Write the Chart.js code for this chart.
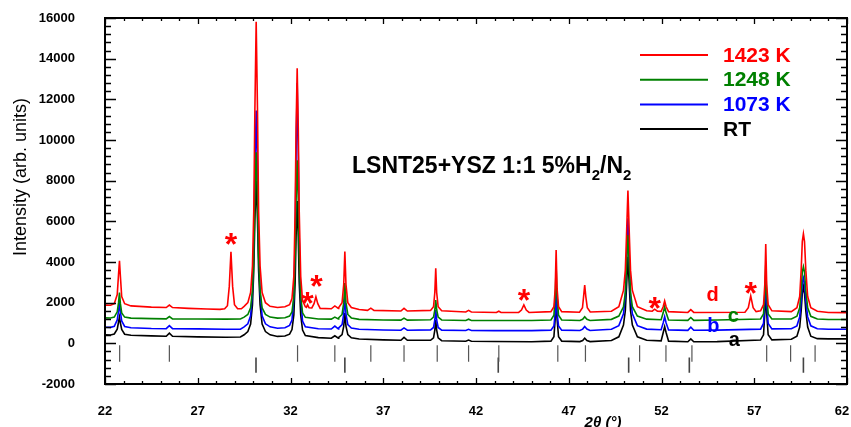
<!DOCTYPE html>
<html>
<head>
<meta charset="utf-8">
<script src="https://cdn.jsdelivr.net/npm/chart.js@4.4.1/dist/chart.umd.min.js"></script>
<style>
  html, body { margin: 0; padding: 0; background: #fff; }
</style>
</head>
<body>
<canvas id="xrd" width="851" height="427"></canvas>
<script>
// series names / colours (legend order)
const seriesNames = ['1423 K', '1248 K', '1073 K', 'RT'];
const seriesColors = ['#ff0000', '#008000', '#0000ff', '#000000'];

// 2theta / intensity pairs
const k1423 = [
  [22.0,1880],[22.3,1870],
  [22.5,1950],[22.66,2400],[22.73,3400],[22.78,4060],[22.83,3300],[22.9,2300],[23.06,1950],[23.4,1840],
  [24.5,1780],[25.3,1760],[25.47,1880],[25.64,1760],
  [26.5,1720],[27.5,1690],[28.2,1670],
  [28.45,1700],[28.6,1850],[28.7,2800],[28.79,4500],[28.88,2800],[28.98,1900],[29.15,1700],[29.35,1700],
  [29.5,1820],[29.7,2000],[29.85,2500],[29.95,3800],[30.02,6500],[30.08,11500],[30.15,15820],[30.22,11500],[30.28,6500],[30.36,3800],[30.47,2500],[30.65,2000],[30.9,1820],
  [31.3,1760],[31.7,1800],
  [31.95,1900],[32.08,2200],[32.18,3300],[32.25,6500],[32.3,10500],[32.36,13530],[32.42,10500],[32.47,6500],[32.55,3300],[32.65,2100],[32.8,1800],
  [32.86,1770],[32.92,1900],[33.0,1750],
  [33.15,1740],[33.27,1950],[33.37,2290],[33.47,1950],[33.6,1720],
  [34.2,1700],[34.39,1840],[34.58,1720],
  [34.6,1760],[34.78,2000],[34.87,2900],[34.93,4510],[34.99,2900],[35.09,2000],[35.28,1760],[35.7,1660],
  [36.15,1620],[36.33,1730],[36.5,1620],
  [37.95,1590],[38.12,1720],[38.3,1590],
  [39.55,1620],[39.71,1800],[39.78,2500],[39.83,3690],[39.88,2500],[39.96,1800],[40.15,1600],
  [41.45,1540],[41.6,1620],[41.75,1540],
  [43.1,1520],[43.23,1580],[43.35,1520],
  [44.3,1520],[44.45,1640],[44.58,1890],[44.71,1640],[44.86,1520],
  [46.04,1560],[46.2,1800],[46.27,2700],[46.32,4590],[46.37,2700],[46.45,1800],[46.62,1560],
  [47.58,1530],[47.74,1750],[47.8,2300],[47.86,2870],[47.92,2300],[48.0,1750],[48.16,1540],
  [49.3,1580],[49.7,1800],[49.95,2600],[50.05,3600],[50.11,5200],[50.19,7510],[50.27,5200],[50.33,3600],[50.43,2600],[50.7,1800],[51.2,1600],
  [51.5,1580],[51.63,1680],[51.78,1580],
  [51.98,1570],[52.09,1800],[52.17,2080],[52.25,1800],[52.38,1560],
  [53.42,1520],[53.58,1660],[53.74,1520],
  [56.5,1530],[56.68,1750],[56.81,2330],[56.94,1750],[57.1,1560],
  [57.34,1600],[57.5,1900],[57.57,2900],[57.62,4890],[57.67,2900],[57.75,1900],[57.95,1600],
  [59.0,1560],[59.3,1750],[59.45,2300],[59.53,3600],[59.59,5000],[59.65,5380],[59.71,5000],[59.78,3600],[59.88,2300],[60.05,1750],[60.4,1580],
  [61.0,1520],[62.0,1510]
];

const k1248 = [
  [22.0,1250],[22.3,1245],
  [22.5,1290],[22.66,1550],[22.73,2000],[22.78,2500],[22.83,1950],[22.9,1500],[23.06,1290],[23.4,1240],
  [24.5,1215],[25.3,1205],[25.47,1320],[25.64,1205],
  [27.0,1200],[28.5,1190],[29.3,1200],
  [29.5,1290],[29.7,1420],[29.85,1750],[29.95,2600],[30.02,4300],[30.08,7200],[30.15,9400],[30.22,7200],[30.28,4300],[30.36,2600],[30.47,1750],[30.65,1420],[30.9,1290],
  [31.3,1240],[31.7,1260],
  [31.95,1340],[32.08,1550],[32.18,2300],[32.25,4300],[32.3,7000],[32.36,9000],[32.42,7000],[32.47,4300],[32.55,2300],[32.65,1500],[32.8,1280],
  [33.5,1200],[34.2,1190],[34.39,1290],[34.58,1200],
  [34.6,1260],[34.78,1420],[34.87,2000],[34.93,2970],[34.99,2000],[35.09,1420],[35.28,1250],[35.7,1180],
  [37.0,1150],[37.95,1140],[38.12,1240],[38.3,1140],
  [39.55,1160],[39.71,1290],[39.78,1650],[39.83,2130],[39.88,1650],[39.96,1290],[40.15,1150],
  [41.45,1125],[41.6,1185],[41.75,1125],
  [43.0,1120],[45.0,1120],
  [46.04,1150],[46.2,1380],[46.27,2300],[46.32,3770],[46.37,2300],[46.45,1380],[46.62,1150],
  [47.6,1125],[47.75,1180],[47.86,1310],[47.98,1180],[48.15,1125],
  [49.3,1180],[49.7,1340],[49.95,1800],[50.05,2500],[50.11,3700],[50.19,5330],[50.27,3700],[50.33,2500],[50.43,1800],[50.7,1340],[51.2,1190],
  [51.98,1160],[52.09,1500],[52.17,1800],[52.25,1500],[52.38,1150],
  [53.42,1130],[53.58,1270],[53.74,1130],
  [55.0,1150],
  [57.34,1200],[57.5,1450],[57.57,2400],[57.62,3850],[57.67,2400],[57.75,1450],[57.95,1200],
  [59.0,1200],[59.3,1330],[59.45,1750],[59.53,2600],[59.59,3500],[59.65,3770],[59.71,3500],[59.78,2600],[59.88,1750],[60.05,1330],[60.4,1200],
  [61.0,1175],[62.0,1170]
];

const k1073 = [
  [22.0,790],[22.3,785],
  [22.5,840],[22.66,1150],[22.73,1600],[22.78,1950],[22.83,1550],[22.9,1100],[23.06,830],[23.4,770],
  [24.5,730],[25.3,720],[25.47,870],[25.64,720],
  [27.0,710],[28.5,695],[29.3,700],
  [29.5,810],[29.7,960],[29.85,1350],[29.95,2500],[30.02,4800],[30.08,8500],[30.15,11450],[30.22,8500],[30.28,4800],[30.36,2500],[30.47,1350],[30.65,960],[30.9,810],
  [31.3,740],[31.7,770],
  [31.95,880],[32.08,1150],[32.18,2200],[32.25,5200],[32.3,9200],[32.36,12800],[32.42,9200],[32.47,5200],[32.55,2200],[32.65,1100],[32.8,810],
  [33.5,720],[34.2,705],[34.39,850],[34.58,710],
  [34.6,760],[34.78,920],[34.87,1450],[34.93,2280],[34.99,1450],[35.09,920],[35.28,750],[35.7,690],
  [37.0,655],[37.95,645],[38.12,760],[38.3,645],
  [39.55,660],[39.71,780],[39.78,1150],[39.83,1640],[39.88,1150],[39.96,780],[40.15,650],
  [41.45,630],[41.6,690],[41.75,630],
  [43.0,625],[45.0,625],
  [46.04,650],[46.2,850],[46.27,1500],[46.32,2540],[46.37,1500],[46.45,850],[46.62,650],
  [47.6,630],[47.75,700],[47.86,830],[47.98,700],[48.15,630],
  [49.3,690],[49.7,870],[49.95,1450],[50.05,2300],[50.11,4000],[50.19,6150],[50.27,4000],[50.33,2300],[50.43,1450],[50.7,870],[51.2,700],
  [51.98,670],[52.09,1000],[52.17,1310],[52.25,1000],[52.38,660],
  [53.42,640],[53.58,790],[53.74,640],
  [55.0,650],
  [57.34,700],[57.5,980],[57.57,2000],[57.62,3360],[57.67,2000],[57.75,980],[57.95,710],
  [59.0,720],[59.3,860],[59.45,1300],[59.53,2100],[59.59,2950],[59.65,3210],[59.71,2950],[59.78,2100],[59.88,1300],[60.05,860],[60.4,720],
  [61.0,695],[62.0,690]
];

const rt = [
  [22.0,420],[22.3,410],
  [22.5,460],[22.66,700],[22.73,1050],[22.78,1300],[22.83,1000],[22.9,680],[23.06,450],[23.4,395],
  [24.5,365],[25.3,350],[25.47,500],[25.64,350],
  [27.0,320],[28.5,300],[29.3,310],
  [29.5,420],[29.7,580],[29.85,950],[29.95,1900],[30.02,3600],[30.08,6100],[30.15,8000],[30.22,6100],[30.28,3600],[30.36,1900],[30.47,950],[30.65,580],[30.9,420],
  [31.3,340],[31.7,360],
  [31.95,450],[32.08,680],[32.18,1400],[32.25,3000],[32.3,5200],[32.36,7000],[32.42,5200],[32.47,3000],[32.55,1400],[32.65,650],[32.8,380],
  [33.5,280],[34.2,250],[34.39,370],[34.58,250],
  [34.6,290],[34.78,430],[34.87,850],[34.93,1490],[34.99,850],[35.09,430],[35.28,270],[35.7,210],
  [37.0,170],[37.95,150],[38.12,290],[38.3,150],
  [39.55,150],[39.71,270],[39.78,650],[39.83,1150],[39.88,650],[39.96,270],[40.15,130],
  [41.45,100],[41.6,160],[41.75,100],
  [43.0,90],[45.0,80],
  [46.04,110],[46.2,320],[46.27,1200],[46.32,2300],[46.37,1200],[46.45,320],[46.62,110],
  [47.6,85],[47.75,140],[47.86,250],[47.98,140],[48.15,85],
  [49.3,140],[49.7,320],[49.95,900],[50.05,1600],[50.11,2700],[50.19,4260],[50.27,2700],[50.33,1600],[50.43,900],[50.7,320],[51.2,150],
  [51.98,120],[52.09,520],[52.17,820],[52.25,520],[52.38,110],
  [53.42,80],[53.58,220],[53.74,80],
  [55.0,85],
  [57.34,160],[57.5,420],[57.57,1500],[57.62,2720],[57.67,1500],[57.75,420],[57.95,170],
  [59.0,200],[59.3,350],[59.45,800],[59.53,1600],[59.59,2450],[59.65,2790],[59.71,2450],[59.78,1600],[59.88,800],[60.05,350],[60.4,230],
  [61.0,220],[62.0,220]
];

// reference peak markers (two phases)
const phaseUpper = [22.79, 25.47, 32.38, 34.39, 36.33, 38.12, 39.91, 41.6, 43.23, 46.41, 47.9, 50.82, 52.24, 53.64, 57.67, 58.96, 60.28];
const phaseLower = [30.14, 34.93, 43.2, 50.23, 53.5, 59.65];
const upperSpan = [-100, -900];
const lowerSpan = [-700, -1450];

// red stars over the extra peaks
const starX = [28.79, 32.92, 33.40, 44.58, 51.63, 56.81];
const starY = [5180, 2290, 3115, 2426, 2047, 2755];

// curve letters
const tagText = ['d', 'c', 'b', 'a'];
const tagX = [54.75, 55.87, 54.80, 55.93];
const tagY = [2330, 1344, 852, 164];

const FONT = '"Liberation Sans", Arial, sans-serif';

function markerData(list, span) {
  const out = [];
  list.forEach(p => { out.push([p, span[0]], [p, span[1]], [p, null]); });
  return out;
}

// frame with inward ticks on all four sides + text
const frameTicks = {
  id: 'frameTicks',
  afterDatasetsDraw(chart) {
    const { ctx, chartArea: a, scales: { x, y } } = chart;
    ctx.save();
    ctx.strokeStyle = '#000';
    ctx.lineWidth = 1.3;
    ctx.beginPath();
    for (let v = 22; v <= 62; v++) {
      const px = Math.round(x.getPixelForValue(v)) + 0.5;
      const len = (v - 22) % 5 === 0 ? 6 : 3;
      ctx.moveTo(px, a.bottom); ctx.lineTo(px, a.bottom - len);
      ctx.moveTo(px, a.top); ctx.lineTo(px, a.top + len);
    }
    for (let v = -2000; v <= 16000; v += 400) {
      const py = Math.round(y.getPixelForValue(v)) + 0.5;
      const len = v % 2000 === 0 ? 11 : 6;
      ctx.moveTo(a.left, py); ctx.lineTo(a.left + len, py);
      ctx.moveTo(a.right, py); ctx.lineTo(a.right - len, py);
    }
    ctx.stroke();
    ctx.lineWidth = 2;
    ctx.strokeRect(a.left, a.top, a.right - a.left, a.bottom - a.top);
    ctx.restore();
  },
  afterDraw(chart) {
    const { ctx, chartArea: a, scales: { x, y } } = chart;
    ctx.save();

    // last x tick label, kept inside the canvas
    ctx.fillStyle = '#000';
    ctx.font = 'bold 13px ' + FONT;
    ctx.textAlign = 'center';
    ctx.textBaseline = 'middle';
    ctx.fillText('62', Math.min(x.getPixelForValue(62), 842), 411);

    // legend
    seriesNames.forEach((name, i) => {
      const yy = 55 + i * 24.7;
      ctx.strokeStyle = seriesColors[i];
      ctx.lineWidth = 2;
      ctx.beginPath(); ctx.moveTo(640, yy); ctx.lineTo(708, yy); ctx.stroke();
      ctx.fillStyle = seriesColors[i];
      ctx.font = 'bold 21px ' + FONT;
      ctx.textBaseline = 'middle';
      ctx.textAlign = 'left';
      ctx.fillText(name, 723, yy + 1);
    });

    // sample label with subscripts
    ctx.fillStyle = '#000';
    ctx.textBaseline = 'alphabetic';
    let tx = 352;
    const base = 173;
    const parts = [['LSNT25+YSZ 1:1 5%H', 0], ['2', 1], ['/N', 0], ['2', 1]];
    parts.forEach(([s, sub]) => {
      ctx.font = (sub ? 'bold 15px ' : 'bold 23px ') + FONT;
      ctx.fillText(s, tx, sub ? base + 7 : base);
      tx += ctx.measureText(s).width;
    });

    // stars
    ctx.fillStyle = '#ff0000';
    ctx.font = 'bold 32px ' + FONT;
    ctx.textAlign = 'center';
    starX.forEach((sx, i) => {
      ctx.fillText('*', x.getPixelForValue(sx), y.getPixelForValue(starY[i]) + 17);
    });

    // curve letters
    ctx.font = 'bold 20px ' + FONT;
    ctx.textBaseline = 'middle';
    tagText.forEach((t, i) => {
      ctx.fillStyle = seriesColors[i];
      ctx.fillText(t, x.getPixelForValue(tagX[i]), y.getPixelForValue(tagY[i]));
    });

    // axis titles
    ctx.fillStyle = '#000';
    ctx.font = 'italic bold 15px ' + FONT;
    ctx.textBaseline = 'alphabetic';
    ctx.fillText('2\u03b8 (\u00b0)', 603, 427);

    ctx.translate(21, 177);
    ctx.rotate(-Math.PI / 2);
    ctx.font = '18px ' + FONT;
    ctx.textBaseline = 'middle';
    ctx.fillText('Intensity (arb. units)', 0, 0);
    ctx.restore();
  }
};

const curves = [k1423, k1248, k1073, rt].map((d, i) => ({
  label: seriesNames[i],
  data: d,
  borderColor: seriesColors[i],
  borderWidth: 1.6,
  pointRadius: 0,
  tension: 0,
  fill: false
}));

const markers = [
  { label: 'phase1', data: markerData(phaseUpper, upperSpan), borderColor: '#555', borderWidth: 1.2, pointRadius: 0, spanGaps: false },
  { label: 'phase2', data: markerData(phaseLower, lowerSpan), borderColor: '#444', borderWidth: 1.6, pointRadius: 0, spanGaps: false }
];

new Chart(document.getElementById('xrd').getContext('2d'), {
  type: 'line',
  data: { datasets: curves.concat(markers) },
  options: {
    responsive: false,
    animation: false,
    layout: { padding: { top: 18, right: 4, left: 0, bottom: 0 } },
    plugins: { legend: { display: false }, tooltip: { enabled: false } },
    scales: {
      x: {
        type: 'linear',
        min: 22, max: 62,
        grid: { display: false, drawTicks: false },
        border: { display: false },
        ticks: {
          stepSize: 5,
          padding: 20,
          color: '#000',
          font: { family: FONT, size: 13, weight: 'bold' },
          maxRotation: 0,
          callback: v => (v === 62 ? '' : String(v))
        },
        afterFit: s => { s.height = 43; s.paddingLeft = 0; s.paddingRight = 0; }
      },
      y: {
        min: -2000, max: 16000,
        grid: { display: false, drawTicks: false },
        border: { display: false },
        ticks: {
          stepSize: 2000,
          padding: 30,
          color: '#000',
          font: { family: FONT, size: 13, weight: 'bold' },
          callback: v => String(v)
        },
        afterFit: s => { s.width = 105; s.paddingTop = 0; s.paddingBottom = 0; }
      }
    }
  },
  plugins: [frameTicks]
});
</script>
</body>
</html>
